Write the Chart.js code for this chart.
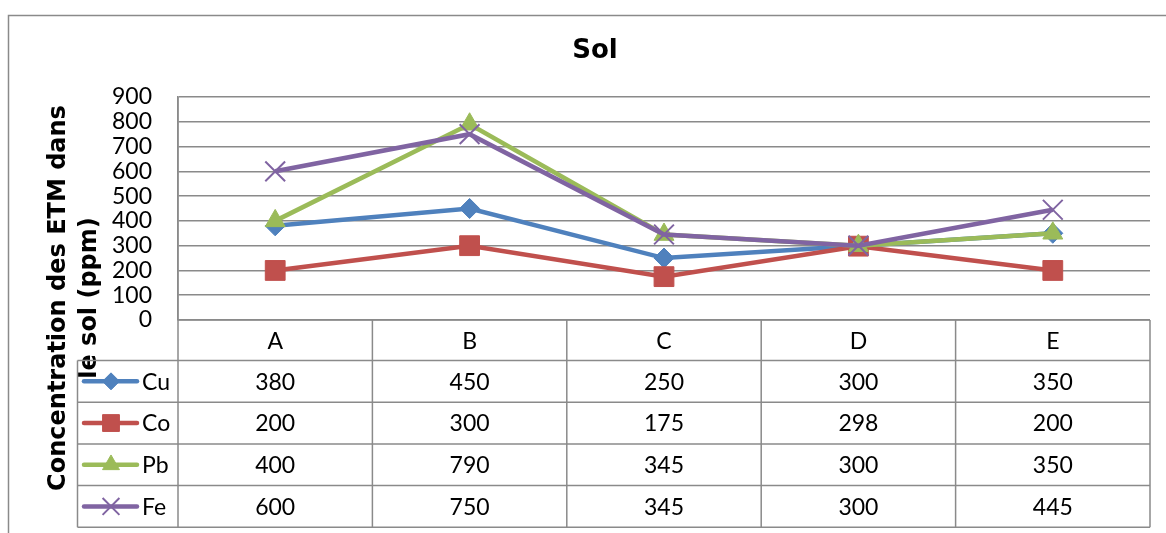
<!DOCTYPE html>
<html>
<head>
<meta charset="utf-8">
<script src="https://cdn.jsdelivr.net/npm/chart.js@4"></script>
<style>
  html, body { margin:0; padding:0; background:#fff; }
  #wrap { width:1166px; height:533px; position:relative; }
</style>
</head>
<body>
<div id="wrap"><canvas id="sol"></canvas></div>
<script>
// données
const categories = ['A', 'B', 'C', 'D', 'E'];
const cu = [380, 450, 250, 300, 350];
const co = [200, 300, 175, 298, 200];
const pb = [400, 790, 345, 300, 350];
const fe = [600, 750, 345, 300, 445];
const seriesNames = ['Cu', 'Co', 'Pb', 'Fe'];
const yMax = 900;
const yStep = 100;

const colors = ['#4F81BD', '#C0504D', '#9BBB59', '#8064A2'];
const styles = ['rectRot', 'rect', 'triangle', 'crossRot'];
const radii = [10, 14, 11.5, 14];
const allValues = [cu, co, pb, fe];

const gridColor = '#8a8a8a';
const txtFamily = 'Lato, "Open Sans", sans-serif';
const txtFont = '23px ' + txtFamily;

function mkSet(i) {
  return {
    label: seriesNames[i],
    data: allValues[i],
    borderColor: colors[i],
    backgroundColor: colors[i],
    borderWidth: 4.5,
    pointStyle: styles[i],
    pointRadius: radii[i],
    pointHoverRadius: radii[i],
    pointBorderWidth: i == 3 ? 2 : 1,
    pointBorderColor: colors[i],
    pointBackgroundColor: colors[i],
    tension: 0,
    order: 3 - i
  };
}

const decor = {
  id: 'decor',
  beforeDraw(chart) {
    const ctx = chart.ctx;
    ctx.save();
    ctx.fillStyle = '#fff';
    ctx.fillRect(0, 0, chart.width, chart.height);
    // cadre extérieur
    ctx.strokeStyle = gridColor;
    ctx.lineWidth = 1.5;
    ctx.beginPath();
    ctx.moveTo(8.5, chart.height);
    ctx.lineTo(8.5, 15.5);
    ctx.lineTo(chart.width, 15.5);
    ctx.stroke();
    // titre
    ctx.fillStyle = '#000';
    ctx.font = 'bold 26px "DejaVu Sans"';
    ctx.textAlign = 'center';
    ctx.textBaseline = 'alphabetic';
    ctx.fillText('Sol', 595, 58);
    // titre axe Y
    ctx.font = 'bold 24px "DejaVu Sans"';
    ctx.save();
    ctx.translate(65, 298);
    ctx.rotate(-Math.PI / 2);
    ctx.fillText('Concentration des ETM dans', 0, 0);
    ctx.fillText('le sol (ppm)', 0, 31);
    ctx.restore();
    ctx.restore();
  },
  afterDraw(chart) {
    const ctx = chart.ctx;
    const xs = chart.scales.x;
    const area = chart.chartArea;
    const colW = (area.right - area.left) / categories.length;
    const top = area.bottom;
    const headH = 40.5;
    const rowH = 41.7;
    const legLeft = 77.5;
    const bottom = top + headH + rowH * seriesNames.length;
    ctx.save();
    ctx.strokeStyle = gridColor;
    ctx.lineWidth = 1.5;
    ctx.beginPath();
    // lignes horizontales
    ctx.moveTo(area.left, top); ctx.lineTo(area.right, top);
    for (let r = 0; r <= seriesNames.length; r++) {
      const y = top + headH + r * rowH;
      ctx.moveTo(legLeft, y); ctx.lineTo(area.right, y);
    }
    // lignes verticales
    for (let c = 0; c <= categories.length; c++) {
      const x = area.left + c * colW;
      ctx.moveTo(x, c == 0 ? area.top : top); ctx.lineTo(x, bottom);
    }
    ctx.moveTo(legLeft, top + headH); ctx.lineTo(legLeft, bottom);
    ctx.stroke();

    ctx.fillStyle = '#000';
    ctx.font = txtFont;
    ctx.textAlign = 'center';
    ctx.textBaseline = 'middle';
    categories.forEach((c, i) => {
      ctx.fillText(c, xs.getPixelForValue(i), top + headH / 2 + 1);
    });
    allValues.forEach((vals, s) => {
      const yc = top + headH + rowH * s + rowH / 2 + 1;
      vals.forEach((v, i) => {
        ctx.fillText(String(v), xs.getPixelForValue(i), yc);
      });
    });
    // légende dans le tableau
    const helpers = Chart.helpers;
    seriesNames.forEach((name, s) => {
      const yc = top + headH + rowH * s + rowH / 2;
      ctx.strokeStyle = colors[s];
      ctx.fillStyle = colors[s];
      ctx.lineWidth = 4.5;
      ctx.lineCap = 'round';
      ctx.beginPath();
      ctx.moveTo(84, yc); ctx.lineTo(137, yc);
      ctx.stroke();
      ctx.lineCap = 'butt';
      ctx.lineWidth = s == 3 ? 2 : 1;
      if (helpers && helpers.drawPoint) {
        helpers.drawPoint(ctx, {pointStyle: styles[s], radius: radii[s] * 0.85, rotation: 0, borderWidth: ctx.lineWidth}, 111, yc);
      }
      ctx.fillStyle = '#000';
      ctx.textAlign = 'left';
      ctx.fillText(name, 142, yc + 1);
    });
    ctx.restore();
  }
};

const ctxSol = document.getElementById('sol');
const chartSol = new Chart(ctxSol, {
  type: 'line',
  data: {
    labels: categories,
    datasets: [mkSet(0), mkSet(1), mkSet(2), mkSet(3)]
  },
  options: {
    responsive: true,
    maintainAspectRatio: false,
    animation: false,
    layout: {
      padding: {top: 97, right: 14, bottom: 213, left: 0}
    },
    plugins: {
      legend: {display: false},
      title: {display: false},
      tooltip: {enabled: false}
    },
    scales: {
      x: {
        type: 'category',
        offset: true,
        display: false
      },
      y: {
        min: 0,
        max: yMax,
        ticks: {
          stepSize: yStep,
          autoSkip: false,
          color: '#000',
          font: {family: txtFamily, size: 23},
          padding: 26
        },
        grid: {
          color: gridColor,
          lineWidth: 1.5,
          drawTicks: false
        },
        border: {display: true, color: gridColor, width: 1.5},
        afterFit: function(scale) {
          scale.width = 178;
        }
      }
    }
  },
  plugins: [decor]
});
</script>
</body>
</html>
